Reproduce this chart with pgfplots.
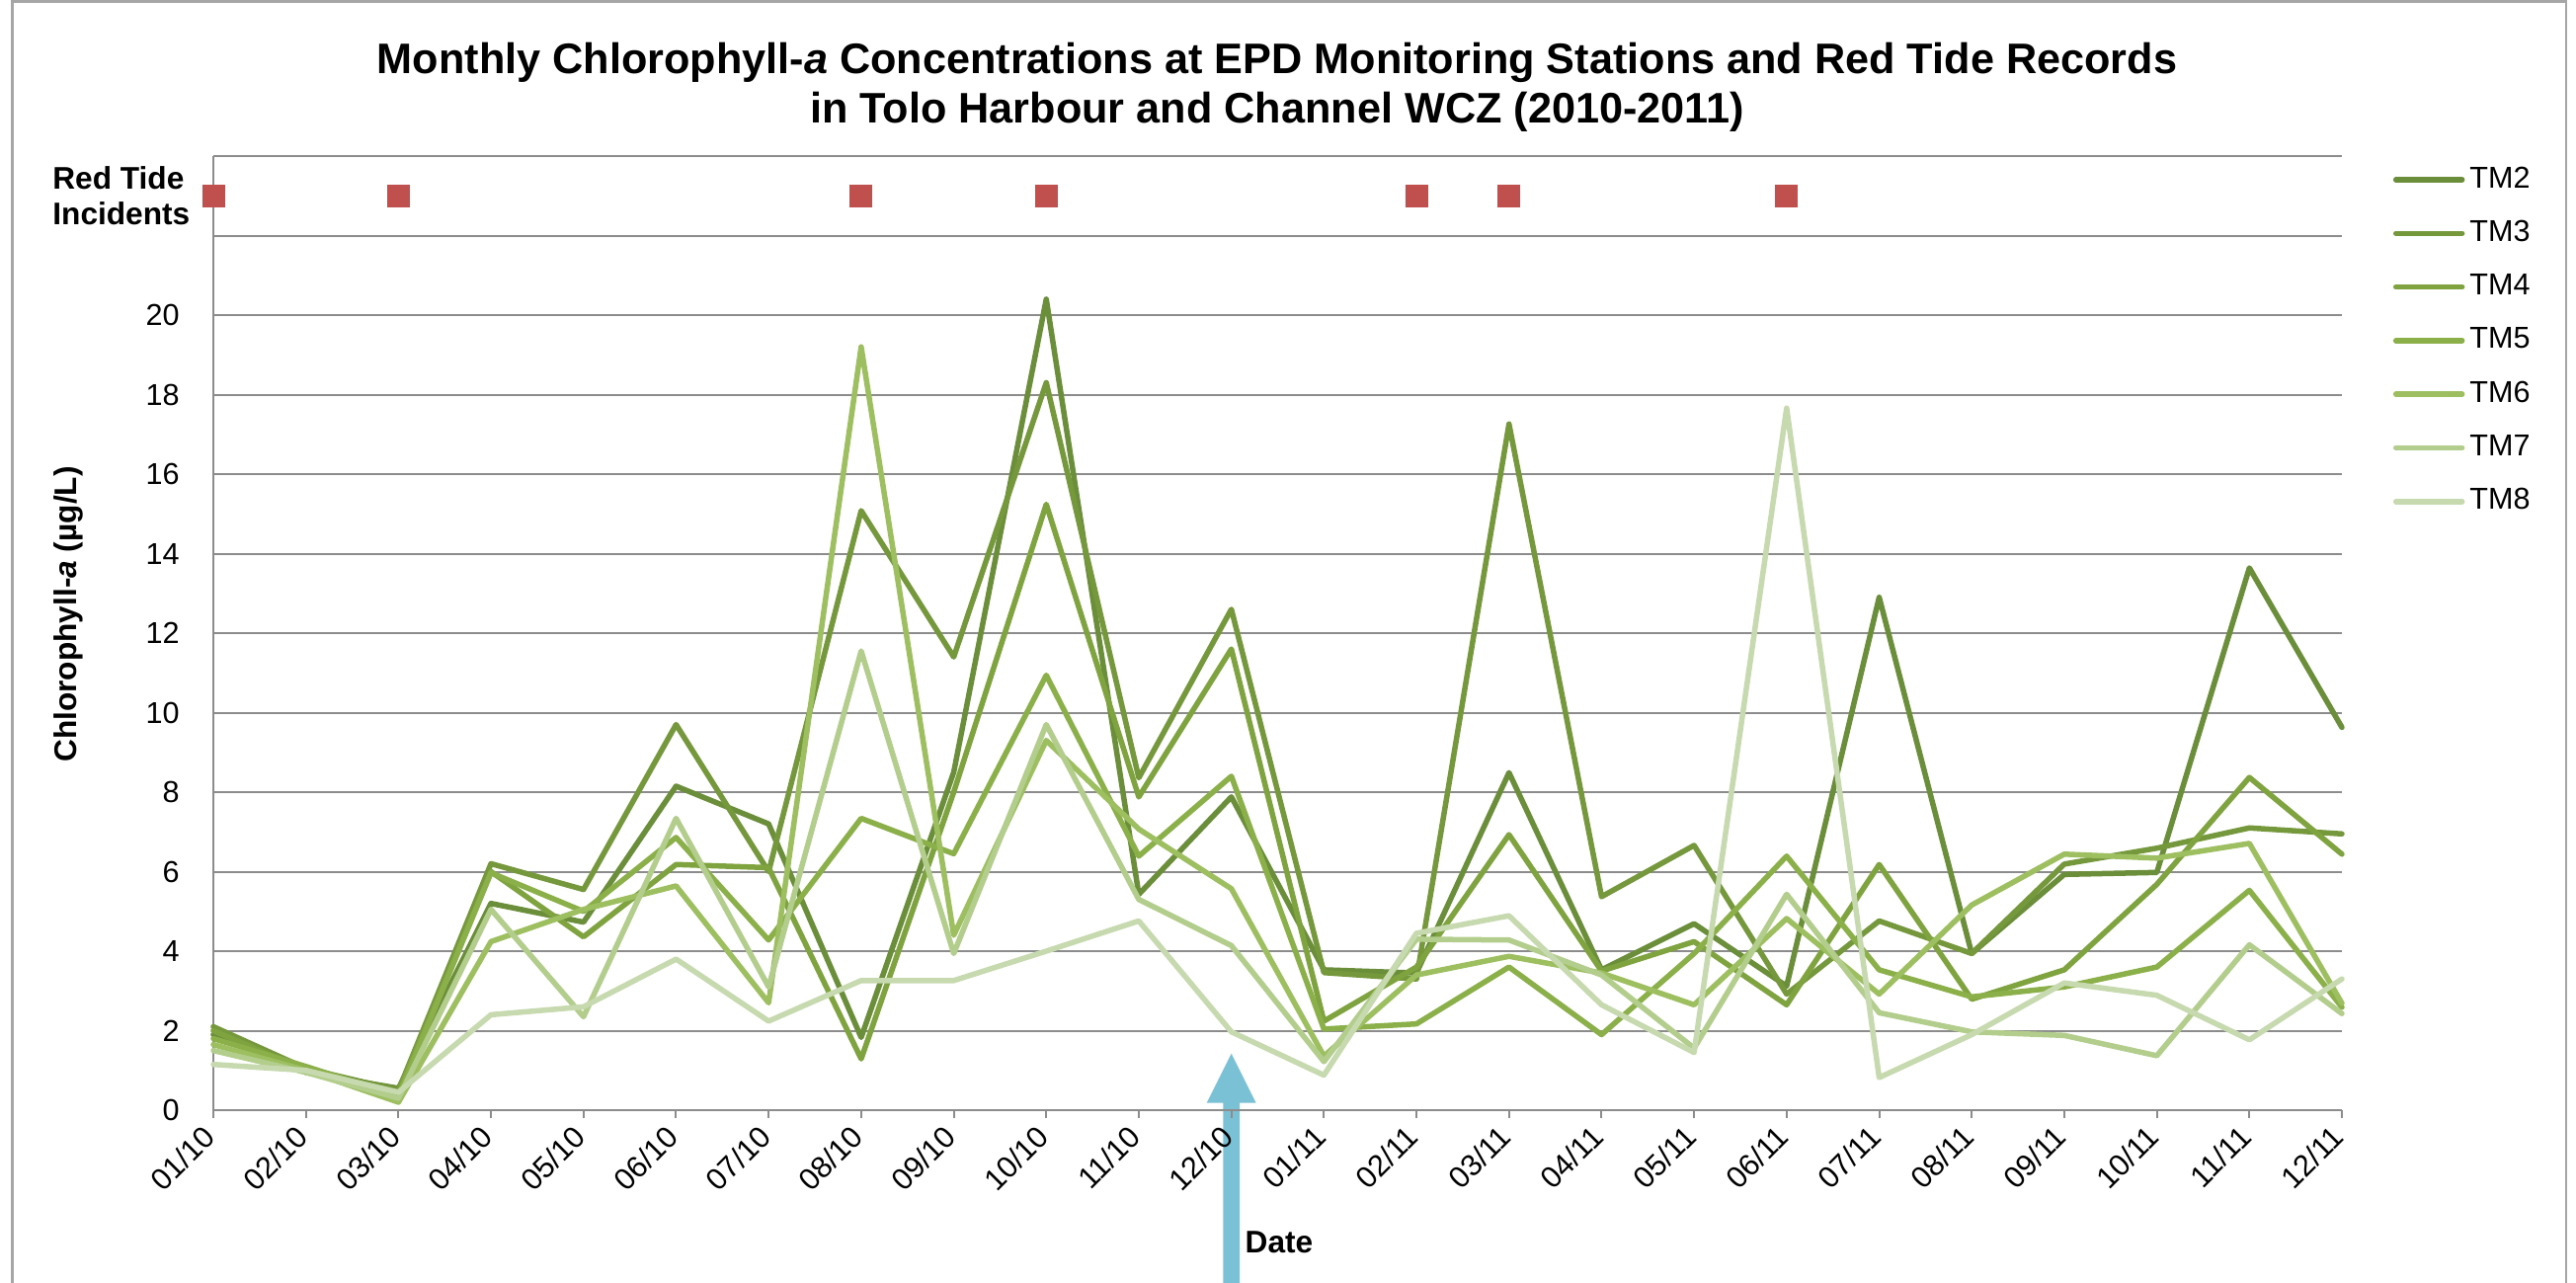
\documentclass[border=0pt]{standalone}
\usepackage{fontspec}
\setmainfont{Liberation Sans}
\usepackage{pgfplots}
\usepackage{pgfplotstable}
\pgfplotsset{compat=1.18}
\definecolor{tmA}{HTML}{6B8E3A}
\definecolor{tmB}{HTML}{76983D}
\definecolor{tmC}{HTML}{7FA33F}
\definecolor{tmD}{HTML}{8BB04A}
\definecolor{tmE}{HTML}{9DBF60}
\definecolor{tmF}{HTML}{B2CD8C}
\definecolor{tmG}{HTML}{C7DAAF}
\definecolor{redtide}{HTML}{C0504D}
\definecolor{arrowblue}{HTML}{7BC1D5}
\definecolor{gridgray}{HTML}{8C8C8C}
\newcommand\tickfont{\fontsize{8.7}{10}\selectfont}
\newcommand\labfont{\fontsize{9}{10.2}\selectfont\bfseries}
\newcommand\titlefont{\fontsize{12.3}{14.2}\selectfont\bfseries}

\pgfplotstableread{
m TMtwo TMthree TMfour TMfive TMsix TMseven TMeight
0 1.90 2.10 2.00 1.80 1.65 1.50 1.15
1 0.95 1.05 1.00 1.10 1.00 0.95 1.00
2 0.55 0.50 0.45 0.35 0.20 0.30 0.45
3 5.20 6.20 6.00 5.97 4.24 5.05 2.40
4 4.73 5.55 4.36 5.00 5.05 2.35 2.60
5 8.15 9.70 6.18 6.86 5.64 7.34 3.80
6 7.20 6.00 6.10 4.28 2.70 3.10 2.24
7 1.83 15.08 1.29 7.34 19.20 11.55 3.26
8 8.50 11.40 8.00 6.45 4.40 3.94 3.26
9 20.40 18.30 15.24 10.94 9.30 9.70 4.00
10 5.43 8.36 7.88 6.39 7.07 5.30 4.76
11 7.88 12.60 11.60 8.40 5.57 4.14 1.97
12 3.53 3.46 2.24 2.04 1.36 1.22 0.88
13 3.45 3.30 3.60 2.17 3.40 4.30 4.45
14 8.49 17.26 6.93 3.60 3.87 4.28 4.89
15 3.53 5.37 3.50 1.90 3.45 3.40 2.65
16 4.69 6.66 4.24 3.94 2.65 1.56 1.45
17 3.12 2.92 2.65 6.39 4.82 5.43 17.66
18 12.90 4.76 6.18 3.53 2.92 2.45 0.82
19 3.94 3.94 2.79 2.85 5.16 1.97 1.90
20 5.93 6.19 3.53 3.10 6.44 1.88 3.20
21 5.98 6.59 5.68 3.60 6.34 1.37 2.89
22 13.64 7.10 8.37 5.53 6.71 4.16 1.77
23 9.63 6.95 6.44 2.59 2.69 2.43 3.30
}\chldata

\pgfplotstableread{
m y
0 23
2 23
7 23
9 23
13 23
14 23
17 23
}\redtide

\begin{document}
\begin{tikzpicture}
\useasboundingbox (0mm,0mm) rectangle (260.8mm,-129.9mm);
% chart frame
\draw[draw=gray!70, line width=0.25mm] (1.25mm,-140mm) -- (1.25mm,-0.15mm) -- (259.8mm,-0.15mm) -- (259.8mm,-140mm);
% blue arrow
\fill[arrowblue] (124.67mm,-106.67mm) -- (127.17mm,-111.67mm) -- (125.5mm,-111.67mm) -- (125.5mm,-131mm)
  -- (123.83mm,-131mm) -- (123.83mm,-111.67mm) -- (122.17mm,-111.67mm) -- cycle;
\begin{axis}[
  at={(21.6mm,-112.4mm)}, anchor=south west,
  width=215.5mm, height=96.6mm, scale only axis,
  xmin=0, xmax=23, ymin=0, ymax=24,
  clip=false,
  axis x line*=bottom, axis y line*=left,
  axis line style={draw=gridgray, line width=0.2mm},
  xtick={0,...,23},
  xticklabels={01/10,02/10,03/10,04/10,05/10,06/10,07/10,08/10,09/10,10/10,11/10,12/10,01/11,02/11,03/11,04/11,05/11,06/11,07/11,08/11,09/11,10/11,11/11,12/11},
  ytick={0,2,4,6,8,10,12,14,16,18,20,22,24},
  yticklabels={0,2,4,6,8,10,12,14,16,18,20,{},{}},
  ymajorgrids,
  grid style={draw=gridgray, line width=0.2mm},
  tick align=outside,
  major tick length=0.8mm,
  x tick style={draw=gridgray, line width=0.2mm},
  y tick style={draw=none},
  yticklabel style={font=\tickfont, anchor=east, xshift=-1.4mm},
  xticklabel style={font=\tickfont, rotate=45, anchor=east, yshift=-0.7mm},
  legend cell align=left,
  legend style={at={(1.0241,1.0033)}, anchor=north west, draw=none, fill=none,
    inner sep=0pt, outer sep=0pt, row sep=0pt, column sep=0.5mm, font=\tickfont,
    nodes={inner sep=0pt, minimum height=5.43mm}},
  legend image code/.code={\draw[#1, line width=0.55mm, line cap=round] (0mm,0mm) -- (6.7mm,0mm);},
  every axis plot/.append style={line width=0.55mm, line join=round, line cap=round, mark=none},
]
\addplot[tmA] table[x=m, y=TMtwo] {\chldata};
\addlegendentry{TM2}
\addplot[tmB] table[x=m, y=TMthree] {\chldata};
\addlegendentry{TM3}
\addplot[tmC] table[x=m, y=TMfour] {\chldata};
\addlegendentry{TM4}
\addplot[tmD] table[x=m, y=TMfive] {\chldata};
\addlegendentry{TM5}
\addplot[tmE] table[x=m, y=TMsix] {\chldata};
\addlegendentry{TM6}
\addplot[tmF] table[x=m, y=TMseven] {\chldata};
\addlegendentry{TM7}
\addplot[tmG] table[x=m, y=TMeight] {\chldata};
\addlegendentry{TM8}
\addplot[forget plot, only marks, mark=square*, mark size=1.1mm, color=redtide, line width=0pt,
  mark options={draw=redtide, fill=redtide, line width=0pt}] table[x=m, y=y] {\redtide};
\end{axis}
\node[font=\titlefont, align=center] at (129.3mm,-8.8mm) {Monthly Chlorophyll-\textit{a} Concentrations at EPD Monitoring Stations and Red Tide Records\\in Tolo Harbour and Channel WCZ (2010-2011)};
\node[font=\labfont, rotate=90] at (6.9mm,-62.2mm) {Chlorophyll-\textit{a} (µg/L)};
\node[font=\labfont, align=left, anchor=west, inner sep=0pt] at (5.27mm,-19.8mm) {Red Tide\\Incidents};
\node[font=\labfont, anchor=west, inner sep=0pt] at (126.0mm,-125.8mm) {Date};
\end{tikzpicture}
\end{document}
